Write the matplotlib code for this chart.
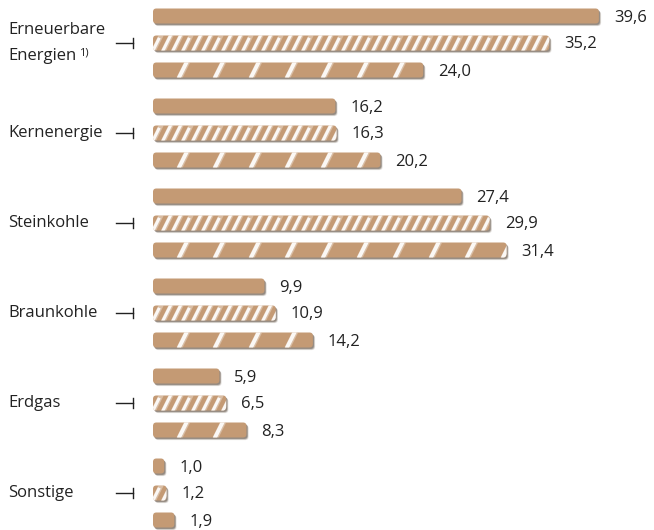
import matplotlib
matplotlib.use("Agg")
import matplotlib.pyplot as plt
from matplotlib.patches import FancyBboxPatch
from matplotlib.lines import Line2D

# Energy sources and their shares (%) for three periods
categories = ["Erneuerbare Energien", "Kernenergie", "Steinkohle",
              "Braunkohle", "Erdgas", "Sonstige"]
series_a = [39.6, 16.2, 27.4, 9.9, 5.9, 1.0]   # solid
series_b = [35.2, 16.3, 29.9, 10.9, 6.5, 1.2]  # dense stripes
series_c = [24.0, 20.2, 31.4, 14.2, 8.3, 1.9]  # wide stripes
value_labels = [[f"{v:.1f}".replace(".", ",") for v in s]
                for s in (series_a, series_b, series_c)]

W, H, DPI = 654, 530, 100
X0 = 153.0          # pixel position of zero
S = 11.26           # pixels per percentage point
BAR_H = 15.0
FACE = "#C49A74"
TEXT = "#222222"
FONT = "Open Sans"
FS = 12

fig = plt.figure(figsize=(W / DPI, H / DPI), dpi=DPI)
ax = fig.add_axes([0, 0, 1, 1])
ax.set_xlim(-X0 / S, (W - X0) / S)
ax.set_ylim(H, 0)
ax.axis("off")


def px_to_x(px):
    return (px - X0) / S


group_top = 16.0
group_step = 90.0
bar_step = 27.0

series = [series_a, series_b, series_c]
stripe_gap = [None, 10.0, 36.0]
stripe_lw = [None, 2.2, 2.8]

for gi, cat in enumerate(categories):
    gc = group_top + gi * group_step + bar_step
    for si, vals in enumerate(series):
        yc = group_top + gi * group_step + si * bar_step
        v = vals[gi]
        rect = ax.barh(yc, v, height=BAR_H, left=0, color="none")[0]
        x, y = rect.get_x(), rect.get_y()
        w, h = rect.get_width(), rect.get_height()
        r = min(0.3, w / 2.2)
        # soft shadow to the lower right
        for dx, dy, a in [(2.2, 2.6, 0.15), (1.6, 2.0, 0.3), (1.0, 1.4, 0.4)]:
            sh = FancyBboxPatch((x + dx / S, y + dy), w, h,
                                boxstyle=f"round,pad=0,rounding_size={r}",
                                mutation_aspect=S, fc="#5a4a3c", ec="none",
                                alpha=a, zorder=1)
            ax.add_patch(sh)
        bar = FancyBboxPatch((x, y), w, h,
                             boxstyle=f"round,pad=0,rounding_size={r}",
                             mutation_aspect=S, fc=FACE, ec="none", zorder=2)
        ax.add_patch(bar)
        gap = stripe_gap[si]
        if gap is not None:
            slant = 8.5  # horizontal pixel offset from bottom to top of a stripe
            p = X0 - slant - 2
            end = X0 + w * S + gap
            k = 0
            while p < end:
                # chalky stripe: a broken solid core with a lighter rim
                dash = [(7, 1.2, 4, 1.5), (5, 1.5, 6, 1.0), (9, 1.0, 3, 2.0)][k % 3]
                core = Line2D([px_to_x(p), px_to_x(p + slant)],
                              [y + h + 1, y - 1],
                              color="white", lw=stripe_lw[si], alpha=0.9,
                              linestyle=(0, dash),
                              solid_capstyle="butt", zorder=3)
                rim = Line2D([px_to_x(p + 0.6), px_to_x(p + slant + 0.6)],
                             [y + h + 1, y - 1],
                             color="white", lw=stripe_lw[si] + 1.2, alpha=0.35,
                             solid_capstyle="butt", zorder=3)
                for ln in (rim, core):
                    ax.add_line(ln)
                    ln.set_clip_path(bar)
                p += gap
                k += 1
        ax.text(px_to_x(X0 + w * S + 15), yc + 1.5, value_labels[si][gi],
                fontsize=FS, color=TEXT, family=FONT,
                ha="left", va="center", zorder=4)

    # bracket tick
    ax.add_line(Line2D([px_to_x(116), px_to_x(133)], [gc, gc],
                       color=TEXT, lw=1.0, zorder=4))
    ax.add_line(Line2D([px_to_x(133), px_to_x(133)], [gc - 5, gc + 5],
                       color=TEXT, lw=1.0, zorder=4))

    if gi == 0:
        ax.text(px_to_x(8), gc - 13, "Erneuerbare", fontsize=FS, color=TEXT,
                family=FONT, ha="left", va="center")
        t = ax.text(px_to_x(8), gc + 13, "Energien", fontsize=FS, color=TEXT,
                    family=FONT, ha="left", va="center")
        fig.canvas.draw()
        bb = t.get_window_extent()
        ax.annotate("1)", xy=(bb.x1 + 3, H - (gc + 10)), xycoords="figure pixels",
                    fontsize=8, color=TEXT, family=FONT,
                    ha="left", va="center")
    else:
        ax.text(px_to_x(8), gc, cat, fontsize=FS, color=TEXT,
                family=FONT, ha="left", va="center")

fig.savefig("out.png", dpi=DPI)
